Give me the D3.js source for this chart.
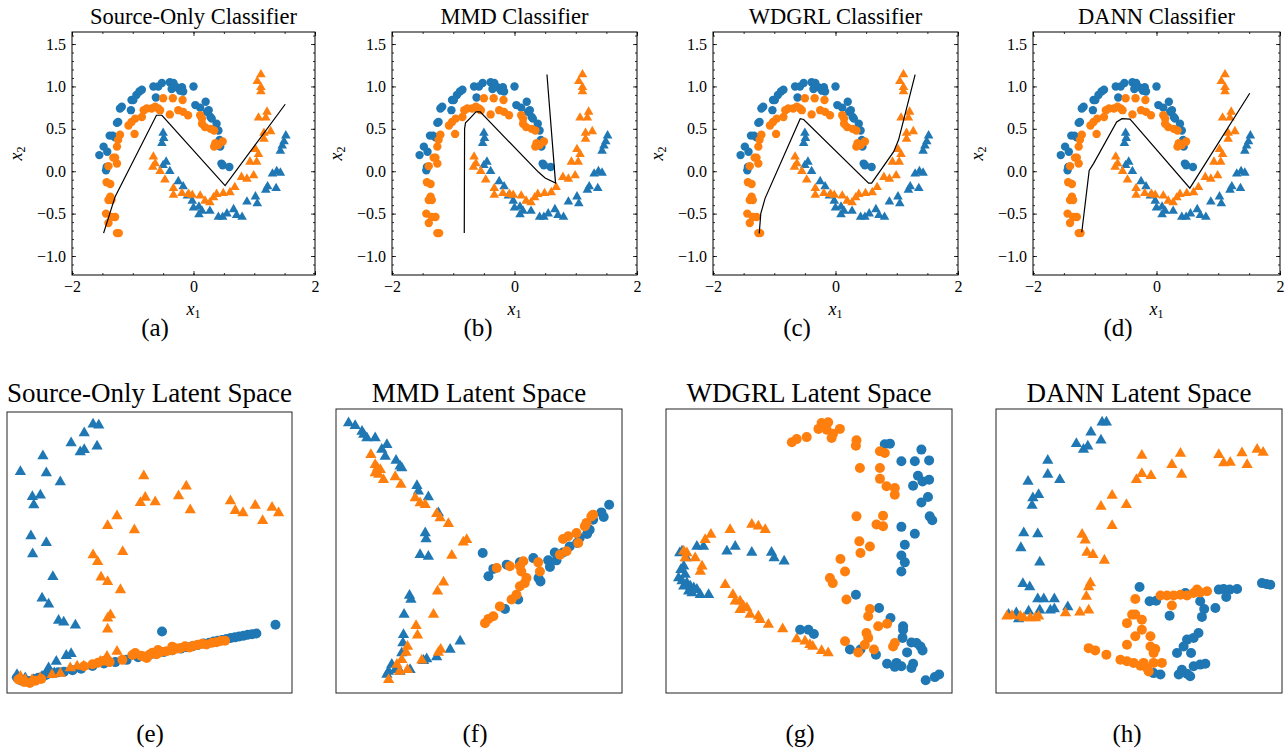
<!DOCTYPE html>
<html><head><meta charset="utf-8">
<script src="https://cdn.jsdelivr.net/npm/d3@7"></script>
<style>
body{margin:0;background:#fff}
svg{display:block}
text{font-family:"Liberation Serif","Times New Roman",serif;fill:#000}
</style>
</head><body>
<svg id="c" width="1287" height="751"></svg>
<script>
// ---------------- DATA ----------------
const topTitles = ["Source-Only Classifier","MMD Classifier","WDGRL Classifier","DANN Classifier"];
const bottomTitles = ["Source-Only Latent Space","MMD Latent Space","WDGRL Latent Space","DANN Latent Space"];
const topCaptions = ["(a)","(b)","(c)","(d)"];
const bottomCaptions = ["(e)","(f)","(g)","(h)"];
const xTicks = [-2,0,2];
const yTicks = [-1.0,-0.5,0.0,0.5,1.0,1.5];

// two-moons input space (shared by panels a-d)
const srcCircles = [[-1.55,0.19],[-1.48,0.29],[-1.42,0.23],[-1.44,0.01],[-1.43,0.05],[-1.38,0.42],[-1.33,0.42],[-1.29,0.40],[-1.26,0.57],[-1.24,0.58],[-1.18,0.76],[-1.21,0.74],[-1.03,0.72],[-1.02,0.84],[-0.99,0.84],[-0.94,0.90],[-0.89,0.94],[-0.85,0.96],[-0.66,1.00],[-0.58,1.00],[-0.52,1.04],[-0.62,0.87],[-0.39,1.05],[-0.33,1.04],[-0.36,0.97],[-0.28,0.99],[-0.22,0.95],[-0.19,0.99],[-0.17,0.94],[0.00,1.00],[0.03,0.78],[0.11,0.75],[0.20,0.82],[0.25,0.72],[0.22,0.70],[0.28,0.64],[0.30,0.62],[0.38,0.56],[0.41,0.48],[0.43,0.37],[0.44,0.29],[0.46,0.09],[0.48,0.07],[0.59,0.05]];
const tgtCircles = [[-1.26,-0.73],[-1.23,-0.73],[-1.40,-0.61],[-1.44,-0.50],[-1.35,-0.54],[-1.29,-0.54],[-1.40,-0.34],[-1.37,-0.30],[-1.35,-0.34],[-1.43,-0.13],[-1.37,-0.15],[-1.40,0.06],[-1.29,0.16],[-1.26,0.09],[-1.32,0.16],[-1.26,0.29],[-1.24,0.37],[-1.21,0.43],[-1.07,0.54],[-1.02,0.58],[-0.96,0.62],[-0.97,0.44],[-0.85,0.64],[-0.82,0.72],[-0.77,0.74],[-0.69,0.74],[-0.63,0.76],[-0.58,0.74],[-0.55,0.72],[-0.50,0.86],[-0.34,0.86],[-0.18,0.84],[-0.39,0.67],[-0.25,0.72],[-0.17,0.70],[-0.09,0.66],[0.11,0.66],[0.14,0.62],[0.14,0.56],[0.19,0.52],[0.28,0.50],[0.34,0.48],[0.36,0.33],[0.41,0.31],[0.48,0.35],[0.34,0.29]];
const srcTriangles = [[-0.50,0.45],[-0.49,0.39],[-0.52,0.33],[-0.50,0.07],[-0.45,0.11],[-0.39,0.00],[-0.25,-0.12],[-0.17,-0.18],[-0.10,-0.29],[-0.02,-0.35],[0.00,-0.43],[0.09,-0.42],[0.14,-0.47],[0.09,-0.51],[0.27,-0.47],[0.41,-0.54],[0.48,-0.54],[0.55,-0.50],[0.66,-0.45],[0.71,-0.52],[0.80,-0.54],[0.88,-0.36],[1.02,-0.30],[1.05,-0.38],[1.19,-0.22],[1.22,-0.18],[1.36,-0.20],[1.30,-0.03],[1.37,0.00],[1.43,-0.02],[1.43,0.24],[1.46,0.30],[1.49,0.35],[1.52,0.42]];
const tgtTriangles = [[-0.66,0.17],[-0.63,0.09],[-0.67,0.05],[-0.55,0.00],[-0.47,-0.10],[-0.33,-0.20],[-0.33,-0.28],[-0.19,-0.26],[-0.08,-0.27],[-0.02,-0.28],[0.11,-0.29],[0.19,-0.35],[0.27,-0.37],[0.33,-0.31],[0.38,-0.27],[0.49,-0.26],[0.60,-0.25],[0.68,-0.19],[0.79,-0.07],[0.88,-0.09],[0.99,-0.05],[0.93,0.11],[1.04,0.11],[1.02,0.26],[1.07,0.20],[1.16,0.45],[1.16,0.38],[1.27,0.47],[1.07,0.63],[1.19,0.63],[1.21,0.70],[1.05,1.06],[1.11,0.99],[1.11,0.94],[1.11,1.14]];

// decision boundaries
const lineA = [[-1.48,-0.73],[-1.29,-0.30],[-0.61,0.66],[-0.52,0.66],[0.52,-0.17],[1.51,0.79]];
const lineB = [[-0.82,-0.73],[-0.815,0.50],[-0.80,0.57],[-0.72,0.63],[-0.63,0.70],[-0.56,0.70],[-0.12,0.37],[0.39,-0.01],[0.50,-0.08],[0.67,-0.14],[0.53,1.14]];
const lineC = [[-1.245,-0.735],[-1.22,-0.50],[-1.15,-0.32],[-0.576,0.62],[-0.52,0.61],[0.54,-0.14],[0.59,-0.14],[0.95,0.23],[1.03,0.37],[1.30,1.14]];
const lineD = [[-1.21,-0.72],[-1.09,0.01],[-1.02,0.09],[-0.645,0.58],[-0.56,0.62],[-0.43,0.615],[-0.375,0.57],[0.54,-0.20],[1.51,0.92]];

// latent spaces (panel units 0-100)
const eSrcTri = [[4.7,78.7],[12.6,84.3],[13.8,78.3],[18.7,75.1],[8.9,69.8],[11.7,70.4],[9.4,66.9],[22.5,89.0],[27.1,92.5],[25.7,85.8],[27.1,86.6],[30.2,95.6],[32.2,95.3],[31.6,87.8],[8.4,55.9],[13.8,53.5],[9.0,49.5],[16.1,41.4],[12.3,33.7],[14.6,31.6],[18.1,25.8],[19.9,25.2],[24.0,24.1],[17.3,11.2],[20.8,13.3],[22.5,14.0],[14.6,8.9],[13.8,7.1],[16.6,7.1],[12.3,5.9],[3.5,6.5],[6.4,5.3],[9.4,4.7]];
const eTgtTri = [[48.0,77.2],[62.9,73.6],[60.2,70.1],[64.3,65.1],[48.5,69.6],[46.8,67.7],[52.0,68.0],[78.4,68.3],[80.1,64.9],[82.8,64.1],[87.1,66.7],[89.7,61.3],[93.0,66.0],[95.3,64.1],[38.6,63.0],[35.3,59.5],[44.7,58.0],[40.6,50.3],[30.2,49.1],[31.8,46.7],[33.0,41.2],[35.3,39.6],[39.8,36.7],[36.3,27.8],[35.3,26.6],[35.3,22.7],[38.6,14.8],[4.7,5.9],[6.4,4.7],[8.8,4.7],[11.7,5.3],[15.8,6.5],[18.7,6.9],[22.2,8.9],[24.6,9.5],[26.9,9.5],[32.7,11.2],[35.1,13.0]];
const eSrcCirc = [[3.5,5.5],[5,4.5],[6.5,4.2],[8,4.3],[9.5,4.8],[11,5.4],[12.5,5.9],[14,6.6],[16,7.0],[18,7.4],[20,7.6],[23,8.1],[26,8.6],[30,9.6],[34,10.5],[38,11.0],[42,11.8],[46,12.7],[50,13.5],[52,14.0],[55,14.6],[58,15.2],[61,15.8],[63,16.3],[65,16.6],[67,17.1],[69,17.6],[71,17.9],[72.5,18.3],[74,18.6],[75.5,18.9],[77,19.2],[78.5,19.6],[80,19.8],[81.5,20.1],[83,20.4],[84.5,20.7],[86,20.9],[87.5,21.2],[54.4,21.9],[94.2,24.3]];
const eTgtCirc = [[4,4.8],[6,3.9],[8,3.6],[10,4.4],[12,5.0],[27,9.5],[30,10.2],[32,10.8],[34,11.5],[36,11.0],[40.5,11.8],[45,14.2],[48,13.0],[49,12.5],[50,13.6],[51,14.3],[52.5,13.8],[54,14.6],[56,14.9],[58,15.2],[59.5,15.8],[61,16.0],[62.5,16.6],[64,16.2],[65.5,16.8],[67,17.2],[68.5,17.5],[70,17.3],[72,17.9],[73.5,18.1],[75,18.5],[76.5,18.6],[58,16.5],[44,13.5],[47,13.3],[53,15.3]];

const fSrcTri = [[4.4,95.1],[6.7,94.1],[9.1,92.1],[9.7,91.0],[10.8,89.8],[13.7,89.8],[16.0,85.7],[17.8,87.4],[17.2,83.3],[21.0,81.9],[22.4,79.8],[23.0,79.2],[28.3,73.0],[28.8,71.0],[32.3,69.0],[35.8,63.4],[31.2,56.3],[31.5,54.2],[29.4,48.7],[32.3,48.1],[25.7,34.3],[26.2,32.9],[23.8,27.6],[23.6,20.5],[23.4,17.6],[23.0,14.1],[19.5,10.0],[18.4,7.6],[17.8,6.5],[20.7,8.2],[22.4,7.6],[25.9,8.2],[30.6,11.4],[31.7,12.0],[35.2,12.7],[39.9,15.3],[43.4,18.2]];
const fTgtTri = [[12.2,83.9],[13.7,80.4],[14.5,79.2],[15.5,78.6],[13.7,77.5],[14.9,76.9],[16.6,75.1],[20.7,76.1],[22.7,73.4],[27.7,68.7],[29.4,66.9],[31.2,66.3],[35.2,63.1],[36.4,61.6],[39.3,59.6],[44.5,53.1],[45.7,54.0],[40.5,48.4],[37.6,39.0],[35.5,35.8],[34.1,27.6],[28.0,23.7],[28.5,20.3],[25.0,16.4],[24.5,14.3],[23.0,11.7],[21.3,10.0],[18.4,4.7],[22.2,7.6],[25.0,8.2],[30.0,11.5],[35.8,14.3],[36.6,15.3]];
const fSrcCirc = [[51.3,49.3],[53.3,41.1],[55.0,43.7],[59.7,45.2],[64.3,46.0],[69.0,47.5],[70.8,40.5],[71.5,39.3],[63.7,32.9],[59.1,29.6],[74.2,46.7],[76.5,49.5],[77.1,46.7],[74.8,44.4],[81.7,51.6],[85.2,54.6],[88.7,57.5],[89.9,61.0],[92.8,63.6],[93.6,62.0],[95.5,66.3],[87.8,56.0],[84.3,52.8],[79.4,49.5]];
const fTgtCirc = [[52.1,24.6],[53.3,26.1],[55.0,27.0],[57.3,30.5],[61.4,32.9],[63.1,34.6],[64.3,37.6],[66.0,38.7],[66.6,40.5],[64.8,42.8],[64.3,44.6],[65.5,46.4],[70.7,46.0],[71.3,42.8],[56.2,44.0],[60.8,44.6],[78.3,48.7],[80.6,49.9],[81.2,55.2],[84.1,56.3],[79.4,54.2],[84.7,52.8],[87.0,58.7],[87.6,59.9],[89.3,62.2],[89.9,62.8]];

const gSrcTri = [[4.8,49.3],[5.6,49.9],[4.4,40.5],[5.2,43.4],[6.2,44.6],[6.7,41.7],[7.3,38.7],[8.5,37.6],[9.7,37.0],[10.8,36.4],[12.0,34.6],[14.9,34.6],[9.1,35.2],[7.9,35.8],[6.2,37.6],[5.6,39.4],[10.8,51.6],[13.1,51.6],[21.3,49.9],[24.2,51.6],[30.0,49.5],[36.9,49.5],[37.8,47.5],[41.3,46.4],[7.1,47.5]];
const gTgtTri = [[6.2,49.9],[7.3,49.3],[6.7,47.5],[10.2,47.5],[13.7,54.0],[15.7,55.8],[12.6,44.6],[12.0,42.8],[22.4,57.5],[30.0,59.3],[32.3,58.7],[34.7,57.5],[20.7,38.1],[23.4,34.6],[24.2,32.3],[25.9,32.3],[27.1,30.5],[28.3,29.9],[29.4,27.6],[32.3,27.0],[32.9,25.8],[35.8,24.1],[40.8,22.5],[45.7,19.0],[48.6,18.2],[50.3,17.0],[51.3,16.4],[54.4,14.9],[56.7,14.1],[25.9,29.3]];
const gSrcCirc = [[76.5,87.6],[78.3,87.8],[89.3,85.7],[82.3,81.6],[87.0,81.6],[92.0,81.9],[88.1,76.5],[89.7,74.5],[92.0,75.1],[86.4,73.0],[91.6,69.0],[89.3,67.1],[92.2,62.2],[93.1,60.8],[82.3,58.5],[87.0,56.1],[83.5,52.2],[82.3,48.4],[83.5,46.0],[82.3,42.8],[66.4,34.6],[74.5,29.9],[78.5,26.4],[82.9,23.5],[82.9,22.3],[82.7,19.4],[85.8,17.8],[87.6,17.6],[89.0,16.4],[89.7,15.0],[84.3,14.3],[64.3,15.3],[68.0,15.3],[73.4,13.5],[77.3,10.3],[80.6,10.6],[82.3,9.4],[86.4,10.3],[80.0,9.2],[85.8,8.8],[90.8,4.5],[94.0,5.6],[95.5,6.5],[46.9,22.3],[49.8,22.3],[51.7,20.8]];
const gTgtCirc = [[44.0,88.3],[45.7,89.4],[49.2,90.1],[53.3,93.0],[54.4,95.1],[56.7,95.3],[56.2,92.7],[58.4,91.3],[57.9,89.8],[60.8,93.0],[66.6,89.0],[66.4,87.1],[74.8,85.1],[76.5,84.5],[67.8,79.2],[74.8,79.2],[74.8,75.4],[77.1,72.8],[80.0,72.2],[80.0,69.8],[66.6,62.2],[75.9,62.4],[73.6,59.3],[75.9,58.7],[67.6,53.4],[71.3,51.6],[68.0,49.3],[61.0,47.2],[62.6,42.8],[57.3,40.5],[58.3,38.7],[63.1,32.9],[71.3,29.6],[70.7,27.0],[74.2,23.5],[77.3,24.4],[70.1,21.1],[70.7,19.4],[69.5,17.0],[62.6,18.2],[67.2,14.3],[72.7,15.3],[79.4,16.4],[80.0,17.6]];

const hSrcTri = [[37.1,95.3],[38.6,95.3],[33.2,91.8],[36.7,89.0],[28.1,87.8],[30.6,85.7],[32.1,86.9],[18.1,81.9],[18.1,76.9],[22.3,75.1],[11.2,74.5],[14.9,69.8],[12.9,68.7],[12.6,66.0],[9.7,56.3],[14.6,56.0],[8.7,51.1],[15.3,46.0],[9.4,38.5],[11.8,37.3],[14.6,33.1],[16.7,33.1],[20.4,33.1],[19.0,29.1],[20.4,29.6],[25.1,30.3],[15.3,29.1],[11.4,28.8],[7.1,28.2],[4.4,27.6],[7.9,26.1]];
const hTgtTri = [[51.0,83.6],[64.5,84.3],[61.5,80.4],[64.9,76.9],[51.0,77.2],[54.2,76.5],[49.1,75.1],[77.9,83.9],[79.6,81.0],[81.9,81.2],[86.0,84.5],[87.8,80.4],[91.3,85.7],[93.4,84.7],[40.6,69.5],[36.7,65.7],[45.6,66.3],[40.6,58.9],[30.1,55.8],[31.2,53.8],[31.8,49.5],[33.9,48.7],[37.9,46.7],[33.0,38.7],[32.4,37.3],[31.6,34.0],[24.3,28.2],[29.3,28.4],[32.4,29.1],[3.8,27.0],[5.6,27.2],[8.5,27.0],[12.0,26.4],[14.9,27.0],[9.7,26.4],[13.8,26.4]];
const hSrcCirc = [[50.2,37.3],[53.7,32.3],[56.0,32.5],[60.7,27.2],[66.2,35.2],[71.4,32.3],[72.8,29.6],[72.0,26.8],[76.7,29.9],[77.9,36.4],[79.6,36.6],[81.7,36.4],[84.3,36.6],[80.5,33.8],[93.0,38.7],[94.5,38.4],[95.9,38.1],[70.8,21.1],[69.1,19.4],[66.8,18.8],[65.6,16.4],[68.2,14.1],[63.3,14.1],[65.0,8.2],[63.9,6.5],[66.8,6.8],[69.1,9.4],[71.4,10.0],[73.2,10.3],[67.9,5.9],[57.5,6.5],[55.1,7.0]];
const hTgtCirc = [[57.5,34.3],[59.8,34.3],[62.1,34.3],[64.5,34.6],[66.8,34.3],[69.1,35.2],[70.3,36.4],[71.4,35.4],[73.8,35.8],[61.5,30.8],[48.7,33.1],[47.6,27.6],[48.7,27.6],[51.0,25.8],[45.8,24.6],[51.0,22.3],[48.7,20.0],[54.0,20.0],[45.8,17.0],[54.0,16.4],[55.7,15.5],[55.1,14.1],[32.4,15.8],[34.7,15.0],[38.6,13.5],[43.5,11.7],[45.8,11.2],[48.1,10.6],[50.5,9.6],[52.8,8.8],[53.4,7.6],[51.6,10.6],[55.1,10.6],[58.0,10.6]];

// ---------------- LAYOUT / STYLE ----------------
const BLUE = "#1f77b4", ORANGE = "#ff7f0e";
const topBoxes = [{l:72,r:315},{l:392,r:637},{l:713,r:958},{l:1033,r:1280}];
const topY = {t:32,b:275};
const topCapX = [155,478,797,1118];
const botBoxes = [{l:7,r:292,t:412},{l:336,r:622,t:409},{l:666,r:952,t:409},{l:996,r:1282,t:409}];
const botBottom = 693;
const botCapX = [150,475,800,1127];
const yLim = [-1.224,1.642];

const svg = d3.select("#c");
const lines = [lineA,lineB,lineC,lineD];
const topSets = [[srcCircles,"c",BLUE],[srcTriangles,"t",BLUE],[tgtCircles,"c",ORANGE],[tgtTriangles,"t",ORANGE]];

function drawMarkers(g, data, kind, color, x, y, r, triSize){
  if(kind==="c"){
    g.selectAll(null).data(data).join("circle")
      .attr("cx",d=>x(d[0])).attr("cy",d=>y(d[1])).attr("r",r).attr("fill",color);
  } else {
    const sym = d3.symbol().type(d3.symbolTriangle).size(triSize);
    g.selectAll(null).data(data).join("path")
      .attr("d",sym).attr("transform",d=>`translate(${x(d[0])},${y(d[1])})`).attr("fill",color);
  }
}

topBoxes.forEach((b,i)=>{
  const x = d3.scaleLinear().domain([-2,2]).range([b.l,b.r]);
  const y = d3.scaleLinear().domain(yLim).range([topY.b,topY.t]);
  const g = svg.append("g");
  // markers
  topSets.forEach(([data,k,c])=>drawMarkers(g,data,k,c,x,y,4.2,40));
  // boundary
  g.append("path").datum(lines[i]).attr("fill","none").attr("stroke","#000").attr("stroke-width",1.2)
    .attr("d",d3.line().x(d=>x(d[0])).y(d=>y(d[1])));
  // axes (inward ticks on all sides)
  const xMinor = d3.range(-2,2.01,0.5), yMinor = d3.range(-1.2,1.61,0.1);
  const mk = (axis, sc, tv, size, fmt)=> axis(sc).tickValues(tv).tickSizeInner(-size).tickSizeOuter(0).tickPadding(6).tickFormat(fmt);
  const none = ()=>"";
  const ax = [
    [d3.axisBottom, x, xMinor, 2, none, `translate(0,${topY.b})`],
    [d3.axisTop, x, xMinor, 2, none, `translate(0,${topY.t})`],
    [d3.axisLeft, y, yMinor, 2, none, `translate(${b.l},0)`],
    [d3.axisRight, y, yMinor, 2, none, `translate(${b.r},0)`],
    [d3.axisBottom, x, xTicks, 4, d3.format("d"), `translate(0,${topY.b})`],
    [d3.axisTop, x, xTicks, 4, none, `translate(0,${topY.t})`],
    [d3.axisLeft, y, yTicks, 4, d3.format(".1f"), `translate(${b.l},0)`],
    [d3.axisRight, y, yTicks, 4, none, `translate(${b.r},0)`]
  ];
  ax.forEach(([a,sc,tv,sz,fmt,tr])=>{
    const ag = g.append("g").attr("transform",tr).call(mk(a,sc,tv,sz,fmt));
    ag.select(".domain").remove();
    ag.selectAll("line").attr("stroke","#000").attr("stroke-width",0.8);
    ag.selectAll("text").attr("font-family",'"Liberation Serif",serif').attr("font-size",16).attr("fill","#000");
  });
  g.append("rect").attr("x",b.l).attr("y",topY.t).attr("width",b.r-b.l).attr("height",topY.b-topY.t)
    .attr("fill","none").attr("stroke","#000").attr("stroke-width",1);
  // titles & labels
  const cx = (b.l+b.r)/2;
  g.append("text").attr("x",cx).attr("y",24).attr("text-anchor","middle").attr("font-size",22.5).text(topTitles[i]);
  const xl = g.append("text").attr("x",cx).attr("y",315).attr("text-anchor","middle").attr("font-size",18);
  xl.append("tspan").attr("font-style","italic").text("x");
  xl.append("tspan").attr("font-size",12).attr("dy",3).text("1");
  const yl = g.append("text").attr("transform",`translate(${b.l-50},${(topY.t+topY.b)/2}) rotate(-90)`).attr("text-anchor","middle").attr("font-size",18);
  yl.append("tspan").attr("font-style","italic").text("x");
  yl.append("tspan").attr("font-size",12).attr("dy",3).text("2");
  g.append("text").attr("x",topCapX[i]).attr("y",336).attr("text-anchor","middle").attr("font-size",25).text(topCaptions[i]);
});

const botSets = [
  [[eSrcCirc,"c",BLUE],[eSrcTri,"t",BLUE],[eTgtCirc,"c",ORANGE],[eTgtTri,"t",ORANGE]],
  [[fSrcCirc,"c",BLUE],[fSrcTri,"t",BLUE],[fTgtCirc,"c",ORANGE],[fTgtTri,"t",ORANGE]],
  [[gSrcCirc,"c",BLUE],[gSrcTri,"t",BLUE],[gTgtCirc,"c",ORANGE],[gTgtTri,"t",ORANGE]],
  [[hSrcCirc,"c",BLUE],[hSrcTri,"t",BLUE],[hTgtCirc,"c",ORANGE],[hTgtTri,"t",ORANGE]]
];
botBoxes.forEach((b,i)=>{
  const x = d3.scaleLinear().domain([0,100]).range([b.l,b.r]);
  const y = d3.scaleLinear().domain([0,100]).range([botBottom,b.t]);
  const g = svg.append("g");
  botSets[i].forEach(([data,k,c])=>drawMarkers(g,data,k,c,x,y,5,55));
  g.append("rect").attr("x",b.l).attr("y",b.t).attr("width",b.r-b.l).attr("height",botBottom-b.t)
    .attr("fill","none").attr("stroke","#222").attr("stroke-width",1);
  g.append("text").attr("x",(b.l+b.r)/2).attr("y",402).attr("text-anchor","middle").attr("font-size",27).text(bottomTitles[i]);
  g.append("text").attr("x",botCapX[i]).attr("y",742).attr("text-anchor","middle").attr("font-size",25).text(bottomCaptions[i]);
});
</script>
</body></html>
